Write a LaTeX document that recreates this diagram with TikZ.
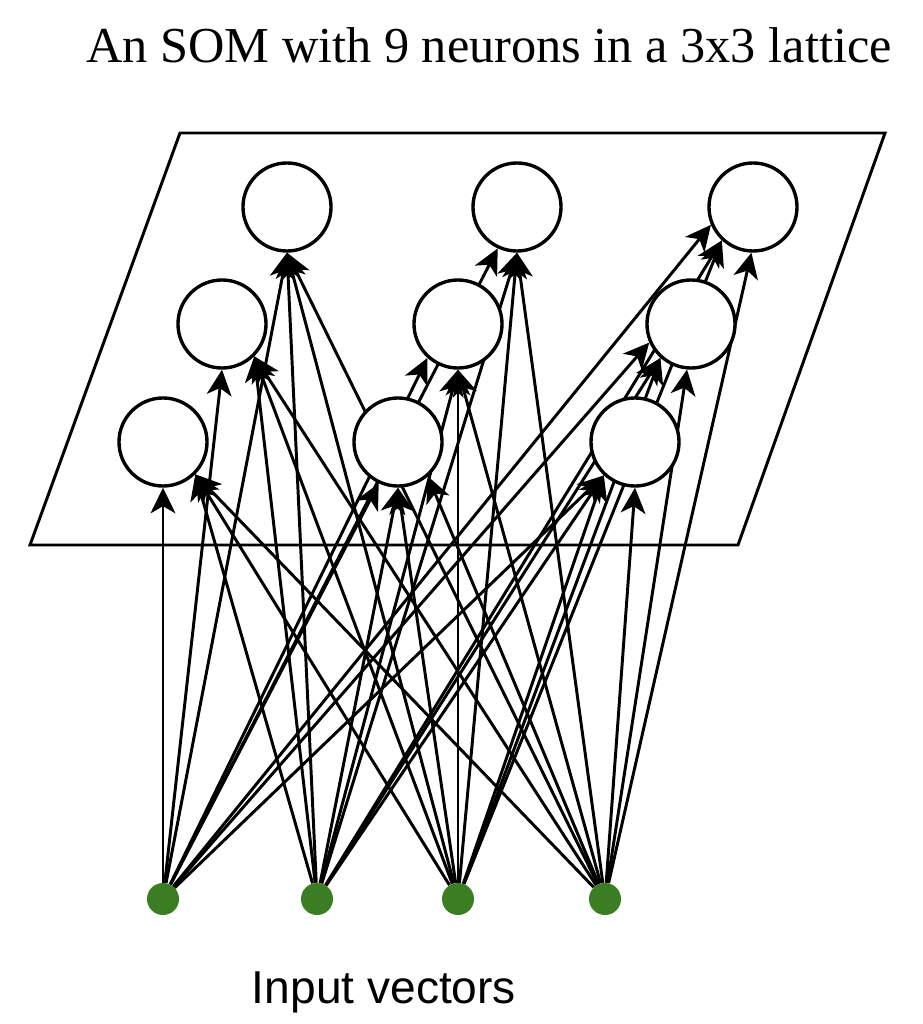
\documentclass[tikz,border=0pt]{standalone}
\usepackage{fontspec}
\setmainfont{Liberation Serif}
\setsansfont{Liberation Sans}
\usetikzlibrary{arrows.meta,backgrounds}
\definecolor{inputgreen}{HTML}{3A7D22}

\begin{document}
\begin{tikzpicture}[x=0.025cm, y=-0.025cm,
    >={Stealth[length=0.64cm,width=0.62cm,inset=0.18cm]},
    neuron/.style={circle, draw, line width=2.4pt, fill=white, minimum size=2.2cm, inner sep=0pt},
    inputdot/.style={circle, fill=inputgreen, minimum size=0.8cm, inner sep=0pt},
    link/.style={->, line width=2.1pt}]
    \useasboundingbox (0,0) rectangle (922,1024);
    % 标题
    \node[anchor=base, font=\fontsize{35.8}{40}\selectfont] (title) at (489,63)
      {An SOM with 9 neurons in a 3x3 lattice};
    % 3x3 神经元（上、中、下三行）
    \node[neuron] (n11) at (287,207) {};
    \node[neuron] (n12) at (517,207) {};
    \node[neuron] (n13) at (753,207) {};
    \node[neuron] (n21) at (222,324) {};
    \node[neuron] (n22) at (458,324) {};
    \node[neuron] (n23) at (691,324) {};
    \node[neuron] (n31) at (163,442) {};
    \node[neuron] (n32) at (398,442) {};
    \node[neuron] (n33) at (635,442) {};
    % 输入点
    \node[inputdot] (x1) at (163,899) {};
    \node[inputdot] (x2) at (317,899) {};
    \node[inputdot] (x3) at (458,899) {};
    \node[inputdot] (x4) at (605,899) {};
    \node[anchor=base, font=\sffamily\fontsize{32.8}{36}\selectfont] (caption) at (384,1003)
      {Input vectors};
    \begin{scope}[on background layer]
      % 格子平面
      \draw[line width=2.1pt] (180,133) -- (885,133) -- (738,545) -- (30,545) -- cycle;
      % 上行
      \draw[link] (x1) -- (n11.270);
      \draw[link] (x2) -- (n11.270);
      \draw[link] (x3) -- (n11.270);
      \draw[link] (x4) -- (n11.270);
      \draw[link] (x1) -- (n12.245);
      \draw[link] (x2) -- (n12.270);
      \draw[link] (x3) -- (n12.270);
      \draw[link] (x4) -- (n12.270);
      \draw[link] (x1) -- (n13.203);
      \draw[link] (x2) -- (n13.227);
      \draw[link] (x3) -- (n13.227);
      \draw[link] (x4) -- (n13.268);
      % 中行
      \draw[link] (x1) -- (n21.270);
      \draw[link] (x2) -- (n21.315);
      \draw[link] (x3) -- (n21.315);
      \draw[link] (x4) -- (n21.315);
      \draw[link] (x1) -- (n22.228);
      \draw[link] (x2) -- (n22.270);
      \draw[link] (x3) -- (n22.270);
      \draw[link] (x4) -- (n22.270);
      \draw[link] (x1) -- (n23.204);
      \draw[link] (x2) -- (n23.228);
      \draw[link] (x3) -- (n23.228);
      \draw[link] (x4) -- (n23.265);
      % 下行
      \draw[link] (x1) -- (n31.270);
      \draw[link] (x2) -- (n31.315);
      \draw[link] (x3) -- (n31.315);
      \draw[link] (x4) -- (n31.315);
      \draw[link] (x1) -- (n32.245);
      \draw[link] (x2) -- (n32.270);
      \draw[link] (x3) -- (n32.270);
      \draw[link] (x4) -- (n32.311);
      \draw[link] (x1) -- (n33.227);
      \draw[link] (x2) -- (n33.227);
      \draw[link] (x3) -- (n33.227);
      \draw[link] (x4) -- (n33.270);
    \end{scope}
  \end{tikzpicture}
\end{document}
